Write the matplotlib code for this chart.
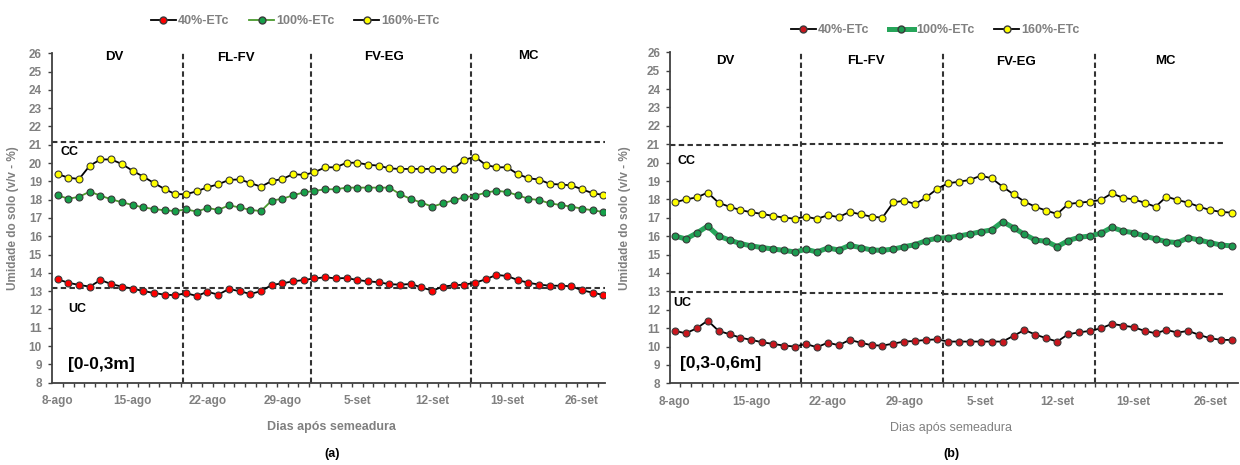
import numpy as np
import matplotlib
matplotlib.use("Agg")
import matplotlib.pyplot as plt
from matplotlib.lines import Line2D

plt.rcParams['font.family'] = ['Liberation Sans', 'DejaVu Sans']

# days after 8-ago (daily readings, 8-ago .. 28-set)
days = np.arange(52)
tick_pos = [0, 7, 14, 21, 28, 35, 42, 49]
tick_labels = ['8-ago', '15-ago', '22-ago', '29-ago', '5-set', '12-set', '19-set', '26-set']
series_names = ['40%-ETc', '100%-ETc', '160%-ETc']
phases = ['DV', 'FL-FV', 'FV-EG', 'MC']

# (a) 0-0,3 m
a_40 = [13.65, 13.46, 13.34, 13.25, 13.61, 13.39, 13.25, 13.14, 13.01, 12.90, 12.81, 12.78, 12.89,
        12.74, 12.97, 12.81, 13.12, 13.00, 12.85, 13.00, 13.34, 13.43, 13.54, 13.61, 13.70, 13.76,
        13.70, 13.72, 13.61, 13.54, 13.49, 13.38, 13.36, 13.39, 13.21, 13.03, 13.25, 13.32, 13.36,
        13.46, 13.65, 13.89, 13.83, 13.61, 13.46, 13.36, 13.30, 13.30, 13.27, 13.05, 12.92, 12.79]
a_100 = [18.24, 18.05, 18.16, 18.44, 18.22, 18.02, 17.86, 17.71, 17.58, 17.49, 17.42, 17.38, 17.47,
         17.35, 17.55, 17.44, 17.69, 17.58, 17.44, 17.38, 17.95, 18.05, 18.24, 18.40, 18.48, 18.57,
         18.57, 18.66, 18.66, 18.66, 18.66, 18.66, 18.30, 18.04, 17.84, 17.62, 17.80, 17.97, 18.13,
         18.22, 18.38, 18.49, 18.42, 18.24, 18.05, 17.98, 17.80, 17.71, 17.62, 17.51, 17.42, 17.33]
a_160 = [19.40, 19.20, 19.13, 19.86, 20.20, 20.20, 19.95, 19.58, 19.26, 18.91, 18.58, 18.30, 18.30,
         18.46, 18.68, 18.84, 19.08, 19.11, 18.91, 18.71, 19.02, 19.13, 19.40, 19.35, 19.50, 19.77,
         19.77, 20.02, 20.02, 19.91, 19.86, 19.71, 19.68, 19.68, 19.68, 19.68, 19.68, 19.68, 20.17,
         20.35, 19.90, 19.77, 19.77, 19.40, 19.17, 19.10, 18.86, 18.83, 18.78, 18.57, 18.35, 18.26]

# (b) 0,3-0,6 m
b_40 = [10.85, 10.72, 10.99, 11.41, 10.85, 10.67, 10.48, 10.36, 10.23, 10.14, 10.05, 10.00, 10.14,
        9.96, 10.21, 10.07, 10.36, 10.21, 10.07, 10.05, 10.16, 10.27, 10.30, 10.36, 10.39, 10.27,
        10.27, 10.27, 10.27, 10.27, 10.27, 10.58, 10.90, 10.65, 10.45, 10.27, 10.67, 10.77, 10.85,
        10.99, 11.23, 11.14, 11.05, 10.85, 10.72, 10.90, 10.76, 10.85, 10.63, 10.45, 10.36, 10.36]
b_100 = [16.01, 15.85, 16.17, 16.55, 16.01, 15.79, 15.60, 15.47, 15.38, 15.30, 15.23, 15.14, 15.29,
         15.14, 15.36, 15.25, 15.50, 15.38, 15.25, 15.23, 15.30, 15.43, 15.54, 15.76, 15.89, 15.92,
         16.01, 16.12, 16.24, 16.34, 16.79, 16.46, 16.10, 15.79, 15.72, 15.43, 15.76, 15.94, 16.01,
         16.16, 16.48, 16.28, 16.19, 16.01, 15.85, 15.70, 15.65, 15.92, 15.79, 15.65, 15.52, 15.47]
b_160 = [17.84, 18.00, 18.11, 18.37, 17.82, 17.60, 17.42, 17.30, 17.21, 17.10, 17.01, 16.95, 17.06,
         16.94, 17.14, 17.04, 17.32, 17.19, 17.06, 17.01, 17.84, 17.93, 17.75, 18.11, 18.57, 18.88,
         18.96, 19.06, 19.29, 19.15, 18.69, 18.28, 17.88, 17.60, 17.39, 17.21, 17.75, 17.82, 17.88,
         17.97, 18.33, 18.09, 18.00, 17.82, 17.60, 18.15, 17.97, 17.82, 17.60, 17.42, 17.32, 17.28]

# phase boundaries (day index) and field capacity / wilting point levels
a_bounds = [11.7, 23.7, 38.6]
b_bounds = [11.5, 24.5, 38.5]
a_cc, a_uc = 21.15, 13.2
b_cc = [20.94, 21.0, 21.02, 21.06]
b_uc = [12.98, 12.9, 12.87, 12.83]

gray = '#808080'
dark = '#333333'
edge = '#3a3a3a'

fig = plt.figure(figsize=(12.4, 4.65), dpi=100)
ax_a = fig.add_axes([0.0417, 0.177, 0.4462, 0.7084])
ax_b = fig.add_axes([0.5403, 0.1757, 0.4581, 0.7118])


def base_axis(ax, xlim):
    ax.set_xlim(*xlim)
    ax.set_ylim(8, 26)
    ax.set_yticks(range(8, 27))
    ax.set_xticks(tick_pos)
    ax.set_xticklabels(tick_labels)
    ax.set_xticks(days[:-1] + 0.5, minor=True)
    for s in ['top', 'right']:
        ax.spines[s].set_visible(False)
    for s in ['left', 'bottom']:
        ax.spines[s].set_color('#404040')
        ax.spines[s].set_linewidth(1.3)
    ax.tick_params(axis='y', direction='out', length=3, width=1, color='#404040', pad=4,
                   labelsize=8.5, labelcolor=gray)
    ax.tick_params(axis='x', which='major', length=0, pad=9, labelsize=8.5, labelcolor=gray)
    ax.tick_params(axis='x', which='minor', direction='out', length=3, width=1, color='#404040')
    for lab in ax.get_xticklabels() + ax.get_yticklabels():
        lab.set_fontweight('bold')


dash = dict(color=dark, lw=1.5, linestyle=(0, (2.6, 1.6)))
ms = 5.0

# ---- panel (a)
base_axis(ax_a, (-0.56, 51.15))
for b in a_bounds:
    ax_a.axvline(b, **dash)
ax_a.axhline(a_cc, **dash)
ax_a.axhline(a_uc, **dash)
ax_a.plot(days, a_40, color='black', lw=1.3, marker='o', ms=ms, mfc='#ff0000', mec=edge, mew=0.8)
ax_a.plot(days, a_100, color='#4a9a2e', lw=1.3, marker='o', ms=ms, mfc='#16a04a', mec=edge, mew=0.8)
ax_a.plot(days, a_160, color='black', lw=1.3, marker='o', ms=ms, mfc='#ffff00', mec=edge, mew=0.8)

for name, x, y in zip(phases, [5.3, 16.7, 30.5, 44.0], [25.8, 25.75, 25.8, 25.85]):
    ax_a.text(x, y, name, ha='center', va='center', fontsize=9.5, fontweight='bold')
ax_a.text(1.1, 20.62, 'CC', ha='center', va='center', fontsize=9, fontweight='bold')
ax_a.text(1.8, 12.0, 'UC', ha='center', va='center', fontsize=9, fontweight='bold')
ax_a.text(4.1, 8.97, '[0-0,3m]', ha='center', va='center', fontsize=12.5, fontweight='bold')

ax_a.set_ylabel('Umidade do solo (v/v - %)', fontsize=8.5, fontweight='bold', color=gray)
ax_a.yaxis.set_label_coords(-0.06, 0.5)
ax_a.set_xlabel('Dias após semeadura', fontsize=9, fontweight='bold', color=gray)
ax_a.xaxis.set_label_coords(0.506, -0.115)
ax_a.text(0.506, -0.217, '(a)', transform=ax_a.transAxes, ha='center', va='center',
          fontsize=9, fontweight='bold')

h_a = [Line2D([], [], color='black', lw=1.3, marker='o', ms=ms, mfc='#ff0000', mec=edge),
       Line2D([], [], color='#4a9a2e', lw=1.3, marker='o', ms=ms, mfc='#16a04a', mec=edge),
       Line2D([], [], color='black', lw=1.3, marker='o', ms=ms, mfc='#ffff00', mec=edge)]
leg_a = fig.legend(h_a, series_names, loc='center', bbox_to_anchor=(0.238, 0.955), ncol=3,
                   frameon=False, handlelength=2.0, handletextpad=0.15, columnspacing=1.6,
                   prop={'size': 9, 'weight': 'bold'})
for t in leg_a.get_texts():
    t.set_color(gray)

# ---- panel (b)
base_axis(ax_b, (-0.45, 51.55))
for b in b_bounds:
    ax_b.axvline(b, **dash)
edges_b = [-0.45] + b_bounds + [50.2]
for i in range(4):
    ax_b.plot([edges_b[i], edges_b[i + 1]], [b_cc[i], b_cc[i]], **dash)
    ax_b.plot([edges_b[i], edges_b[i + 1]], [b_uc[i], b_uc[i]], **dash)
ax_b.plot(days, b_40, color='black', lw=1.3, marker='o', ms=ms, mfc='#c8161d', mec=edge, mew=0.8)
ax_b.plot(days, b_100, color='#27a55a', lw=3.6, marker='o', ms=ms, mfc='#1c9a50', mec=edge, mew=0.8)
ax_b.plot(days, b_160, color='black', lw=1.3, marker='o', ms=ms, mfc='#ffff00', mec=edge, mew=0.8)

for name, x, y in zip(phases, [4.6, 17.5, 31.2, 44.9], [25.53, 25.53, 25.45, 25.53]):
    ax_b.text(x, y, name, ha='center', va='center', fontsize=9.5, fontweight='bold')
ax_b.text(1.1, 20.1, 'CC', ha='center', va='center', fontsize=9, fontweight='bold')
ax_b.text(0.7, 12.35, 'UC', ha='center', va='center', fontsize=9, fontweight='bold')
ax_b.text(4.2, 9.1, '[0,3-0,6m]', ha='center', va='center', fontsize=12.5, fontweight='bold')

ax_b.set_ylabel('Umidade do solo (v/v - %)', fontsize=8.5, fontweight='bold', color=gray)
ax_b.yaxis.set_label_coords(-0.068, 0.5)
ax_b.set_xlabel('Dias após semeadura', fontsize=9, color=gray)
ax_b.xaxis.set_label_coords(0.495, -0.117)
ax_b.text(0.495, -0.214, '(b)', transform=ax_b.transAxes, ha='center', va='center',
          fontsize=9, fontweight='bold')

h_b = [Line2D([], [], color='black', lw=1.3, marker='o', ms=ms, mfc='#c8161d', mec=edge),
       Line2D([], [], color='#27a55a', lw=3.6, marker='o', ms=ms, mfc='#1c9a50', mec=edge),
       Line2D([], [], color='black', lw=1.3, marker='o', ms=ms, mfc='#ffff00', mec=edge)]
leg_b = fig.legend(h_b, series_names, loc='center', bbox_to_anchor=(0.754, 0.935), ncol=3,
                   frameon=False, handlelength=2.0, handletextpad=0.15, columnspacing=1.6,
                   prop={'size': 9, 'weight': 'bold'})
for t in leg_b.get_texts():
    t.set_color(gray)

fig.savefig('out.png', dpi=100)
